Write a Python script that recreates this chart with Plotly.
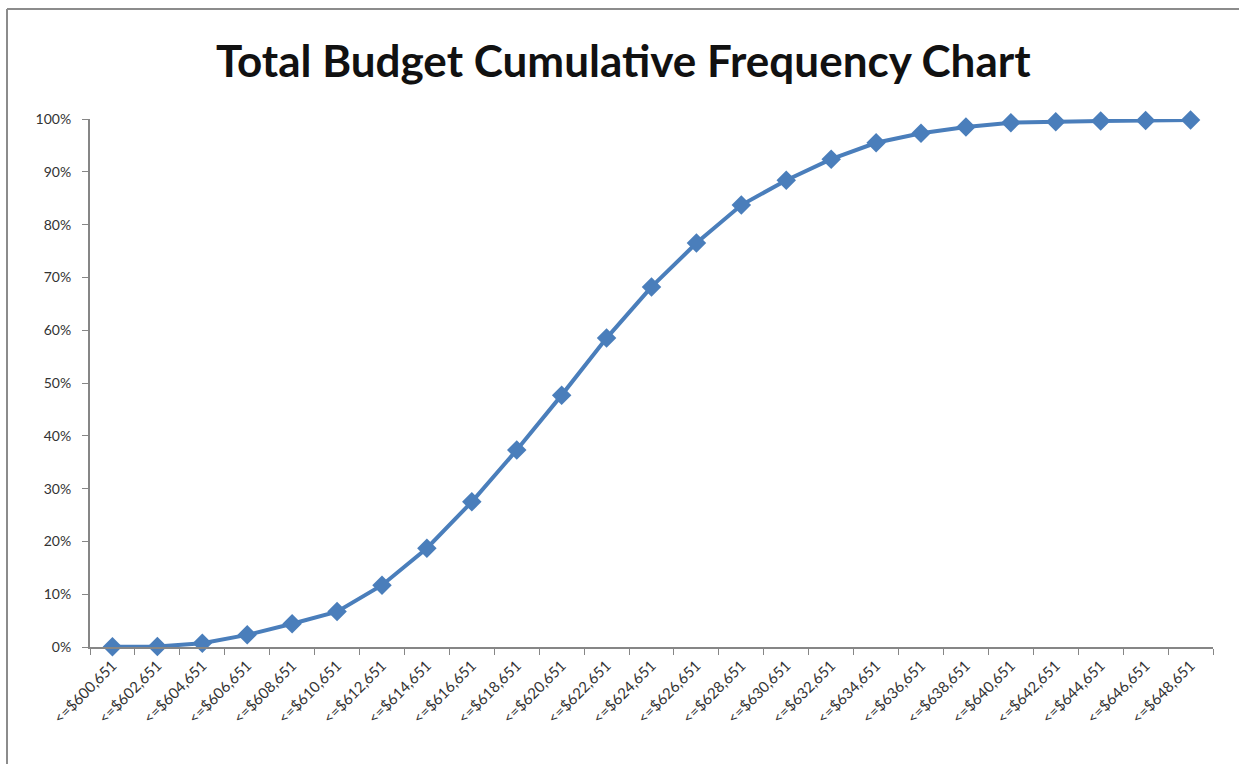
import plotly.graph_objects as go

# Budget bins (upper bounds) and cumulative share of simulated totals
bins = [600651 + 2000 * i for i in range(25)]
labels = ["<=${:,}".format(b) for b in bins]
cumulative = [0.0005, 0.001, 0.007, 0.023, 0.044, 0.067, 0.117, 0.187, 0.275,
              0.373, 0.477, 0.585, 0.682, 0.765, 0.837, 0.884, 0.924, 0.955,
              0.973, 0.985, 0.993, 0.995, 0.996, 0.997, 0.998]

W, H = 1239, 764
ML, MR, MT, MB = 90, 26, 119, 117
plot_w, plot_h = W - ML - MR, H - MT - MB

blue = "#4A7EBB"
axis_grey = "#868686"

fig = go.Figure()
fig.add_trace(go.Scatter(
    x=labels, y=cumulative, mode="lines+markers",
    line=dict(color=blue, width=4),
    marker=dict(symbol="diamond", size=15, color=blue),
    cliponaxis=False,
    hoverinfo="x+y",
))

def px_to_paper_x(px):
    return (px - ML) / plot_w

def px_to_paper_y(py):
    return (H - MB - py) / plot_h

# thin frame along the left and top edges of the chart area
frame = dict(color="#8c8c8c", width=2)
fig.add_shape(type="line", xref="paper", yref="paper",
              x0=px_to_paper_x(7), x1=px_to_paper_x(7),
              y0=px_to_paper_y(9), y1=px_to_paper_y(H + 5), line=frame)
fig.add_shape(type="line", xref="paper", yref="paper",
              x0=px_to_paper_x(7), x1=px_to_paper_x(W + 5),
              y0=px_to_paper_y(9), y1=px_to_paper_y(9), line=frame)

fig.update_layout(
    width=W, height=H,
    margin=dict(l=ML, r=MR, t=MT, b=MB),
    paper_bgcolor="white", plot_bgcolor="white",
    showlegend=False,
    title=dict(text="<b>Total Budget Cumulative Frequency Chart</b>",
               x=0.503, xanchor="center", yref="container", y=1 - 62 / H,
               yanchor="middle",
               font=dict(family="Lato", size=44, color="#111111")),
    xaxis=dict(type="category", range=[-0.5, len(labels) - 0.5],
               tickangle=-45, tickson="boundaries",
               ticks="outside", ticklen=6, tickcolor=axis_grey,
               showline=True, linecolor=axis_grey, linewidth=2,
               showgrid=False, zeroline=False, ticklabelstandoff=2,
               tickfont=dict(family="Lato", size=15, color="#333333")),
    yaxis=dict(range=[0, 1], tickvals=[i / 10 for i in range(11)],
               tickformat=".0%", ticks="outside", ticklen=6,
               tickcolor=axis_grey, showline=True, linecolor=axis_grey,
               linewidth=2, showgrid=False, zeroline=False,
               ticklabelstandoff=8,
               tickfont=dict(family="Lato", size=14, color="#333333")),
)

fig.write_html("out.html")
